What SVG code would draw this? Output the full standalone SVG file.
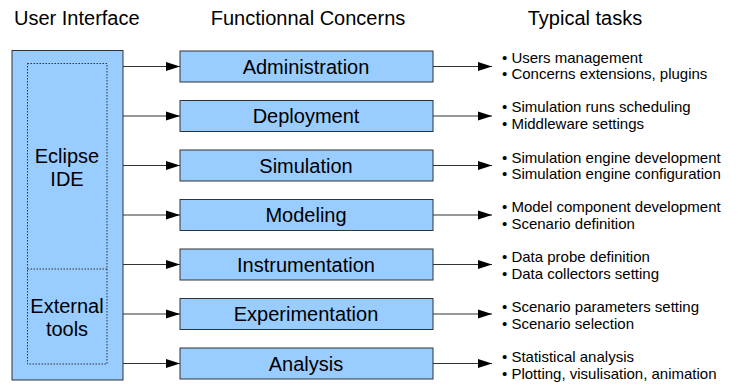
<svg xmlns="http://www.w3.org/2000/svg" width="748" height="385" viewBox="0 0 748 385">
<defs>
<marker id="ah" markerWidth="14" markerHeight="10" refX="14" refY="5" orient="auto" markerUnits="userSpaceOnUse">
<path d="M0,0.5 L14,5 L0,9.5 Z" fill="#000"/>
</marker>
<style>
.hdr{font-family:"Liberation Sans",Arial,sans-serif;font-size:20px;fill:#000}
.lbl{font-family:"Liberation Sans",Arial,sans-serif;font-size:20px;fill:#000;text-anchor:middle}
.task{font-family:"Liberation Sans",Arial,sans-serif;font-size:15px;fill:#000}
.box{fill:#99ccff;stroke:#333;stroke-width:1}
.dot{fill:none;stroke:#333;stroke-width:1;stroke-dasharray:1.5 1.5}
.con{stroke:#333;stroke-width:1.2;fill:none;marker-end:url(#ah)}
</style>
</defs>
<rect width="748" height="385" fill="#fff"/>
<g id="headers">
<text class="hdr" x="14" y="24.5">User Interface</text>
<text class="hdr" x="308" y="24.5" text-anchor="middle">Functionnal Concerns</text>
<text class="hdr" x="585" y="24.5" text-anchor="middle">Typical tasks</text>
</g>
<g id="ui">
<rect class="box" x="12" y="50.5" width="111" height="329.5"/>
<rect class="dot" x="27.5" y="63.5" width="79.5" height="300.5"/>
<line class="dot" x1="27.5" y1="269" x2="107" y2="269"/>
<text class="lbl" x="67" y="162.5">Eclipse</text>
<text class="lbl" x="67" y="185.5">IDE</text>
<text class="lbl" x="67" y="313">External</text>
<text class="lbl" x="67" y="336">tools</text>
</g>
<g id="connectors">
<line class="con" x1="123" y1="66.5" x2="180" y2="66.5"/>
<line class="con" x1="123" y1="116" x2="180" y2="116"/>
<line class="con" x1="123" y1="165.5" x2="180" y2="165.5"/>
<line class="con" x1="123" y1="215" x2="180" y2="215"/>
<line class="con" x1="123" y1="264.5" x2="180" y2="264.5"/>
<line class="con" x1="123" y1="314" x2="180" y2="314"/>
<line class="con" x1="123" y1="363.5" x2="180" y2="363.5"/>
<line class="con" x1="433" y1="66.5" x2="492" y2="66.5"/>
<line class="con" x1="433" y1="116" x2="492" y2="116"/>
<line class="con" x1="433" y1="165.5" x2="492" y2="165.5"/>
<line class="con" x1="433" y1="215" x2="492" y2="215"/>
<line class="con" x1="433" y1="264.5" x2="492" y2="264.5"/>
<line class="con" x1="433" y1="314" x2="492" y2="314"/>
<line class="con" x1="433" y1="363.5" x2="492" y2="363.5"/>
</g>
<g id="administration">
<rect class="box" x="180" y="51" width="253" height="31"/>
<text class="lbl" x="306" y="73.5">Administration</text>
<text class="task" x="502" y="62.5">• Users management</text>
<text class="task" x="502" y="79">• Concerns extensions, plugins</text>
</g>
<g id="deployment">
<rect class="box" x="180" y="100.5" width="253" height="31"/>
<text class="lbl" x="306" y="123">Deployment</text>
<text class="task" x="502" y="112">• Simulation runs scheduling</text>
<text class="task" x="502" y="128.5">• Middleware settings</text>
</g>
<g id="simulation">
<rect class="box" x="180" y="150" width="253" height="31"/>
<text class="lbl" x="306" y="172.5">Simulation</text>
<text class="task" x="502" y="162.5">• Simulation engine development</text>
<text class="task" x="502" y="179">• Simulation engine configuration</text>
</g>
<g id="modeling">
<rect class="box" x="180" y="199.5" width="253" height="31"/>
<text class="lbl" x="306" y="222">Modeling</text>
<text class="task" x="502" y="212">• Model component development</text>
<text class="task" x="502" y="228.5">• Scenario definition</text>
</g>
<g id="instrumentation">
<rect class="box" x="180" y="249" width="253" height="31"/>
<text class="lbl" x="306" y="271.5">Instrumentation</text>
<text class="task" x="502" y="262">• Data probe definition</text>
<text class="task" x="502" y="278.5">• Data collectors setting</text>
</g>
<g id="experimentation">
<rect class="box" x="180" y="298.5" width="253" height="31"/>
<text class="lbl" x="306" y="321">Experimentation</text>
<text class="task" x="502" y="312">• Scenario parameters setting</text>
<text class="task" x="502" y="328.5">• Scenario selection</text>
</g>
<g id="analysis">
<rect class="box" x="180" y="348" width="253" height="31"/>
<text class="lbl" x="306" y="370.5">Analysis</text>
<text class="task" x="502" y="362">• Statistical analysis</text>
<text class="task" x="502" y="378.5">• Plotting, visulisation, animation</text>
</g>
</svg>
